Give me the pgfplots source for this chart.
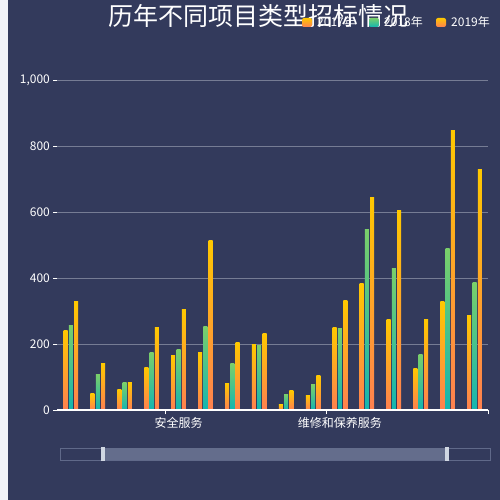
\documentclass[border=0pt]{standalone}
\usepackage{pgfplots}
\pgfplotsset{compat=1.18}
\usepackage{fontspec}
\setmainfont{Noto Sans CJK SC}
\definecolor{bg}{RGB}{51,58,92}
\definecolor{strip}{RGB}{242,243,248}
\definecolor{gridc}{RGB}{118,124,148}
\definecolor{yel}{RGB}{255,200,0}
\definecolor{org}{RGB}{255,128,80}
\definecolor{grn}{RGB}{122,207,106}
\definecolor{teal}{RGB}{19,181,177}
\definecolor{slb}{RGB}{96,105,137}
\definecolor{slf}{RGB}{100,109,140}
\definecolor{hdl}{RGB}{208,215,226}
\pgfplotsset{
  sA/.style={ybar, bar width=4pt, bar shift=-5.3pt, draw=none, top color=yel, bottom color=org},
  sB/.style={ybar, bar width=4pt, bar shift=0pt, draw=none, top color=grn, bottom color=teal},
  sC/.style={ybar, bar width=4pt, bar shift=5.3pt, draw=none, top color=yel, bottom color=org},
}
\begin{document}
\begin{tikzpicture}[x=1pt,y=1pt]
\useasboundingbox (0,0) rectangle (500,500);
\fill[strip] (0,0) rectangle (8,500);
\fill[bg] (8,0) rectangle (500,500);
\begin{axis}[
  at={(57.4pt,90pt)}, anchor=south west,
  scale only axis, width=430.6pt, height=330pt,
  xmin=-0.5, xmax=15.5, ymin=0, ymax=1000,
  axis line style={draw=none},
  ymajorgrids, grid style={gridc, line width=0.6pt},
  ytick={0,200,400,600,800,1000},
  yticklabels={0,200,400,600,800,{1,000}},
  xtick={4,10}, xticklabels={安全服务,维修和保养服务},
  x tick style={draw=none},
  extra x ticks={3.5,9.5,15.5}, extra x tick labels={},
  extra x tick style={x tick style={draw=white, line width=0.8pt}, major tick length=4.5pt},
  y tick style={white, line width=0.8pt},
  tick align=outside, tick pos=left, major tick length=4pt,
  tick label style={white, font=\fontsize{12}{12}\selectfont},
  /pgf/number format/assume math mode=true,
  clip=false,
]
% 2017
\addplot[sA] coordinates {(0,241)};
\addplot[sA] coordinates {(1,49)};
\addplot[sA] coordinates {(2,61)};
\addplot[sA] coordinates {(3,128)};
\addplot[sA] coordinates {(4,164)};
\addplot[sA] coordinates {(5,173)};
\addplot[sA] coordinates {(6,80)};
\addplot[sA] coordinates {(7,197)};
\addplot[sA] coordinates {(8,16)};
\addplot[sA] coordinates {(9,45)};
\addplot[sA] coordinates {(10,249)};
\addplot[sA] coordinates {(11,384)};
\addplot[sA] coordinates {(12,273)};
\addplot[sA] coordinates {(13,126)};
\addplot[sA] coordinates {(14,329)};
\addplot[sA] coordinates {(15,287)};
% 2018
\addplot[sB] coordinates {(0,256)};
\addplot[sB] coordinates {(1,108)};
\addplot[sB] coordinates {(2,82)};
\addplot[sB] coordinates {(3,173)};
\addplot[sB] coordinates {(4,182)};
\addplot[sB] coordinates {(5,252)};
\addplot[sB] coordinates {(6,140)};
\addplot[sB] coordinates {(7,195)};
\addplot[sB] coordinates {(8,48)};
\addplot[sB] coordinates {(9,76)};
\addplot[sB] coordinates {(10,246)};
\addplot[sB] coordinates {(11,548)};
\addplot[sB] coordinates {(12,429)};
\addplot[sB] coordinates {(13,168)};
\addplot[sB] coordinates {(14,488)};
\addplot[sB] coordinates {(15,385)};
% 2019
\addplot[sC] coordinates {(0,329)};
\addplot[sC] coordinates {(1,140)};
\addplot[sC] coordinates {(2,84)};
\addplot[sC] coordinates {(3,249)};
\addplot[sC] coordinates {(4,305)};
\addplot[sC] coordinates {(5,514)};
\addplot[sC] coordinates {(6,204)};
\addplot[sC] coordinates {(7,233)};
\addplot[sC] coordinates {(8,59)};
\addplot[sC] coordinates {(9,104)};
\addplot[sC] coordinates {(10,332)};
\addplot[sC] coordinates {(11,645)};
\addplot[sC] coordinates {(12,606)};
\addplot[sC] coordinates {(13,275)};
\addplot[sC] coordinates {(14,847)};
\addplot[sC] coordinates {(15,728)};
\draw[white, line width=1.2pt] (axis cs:-0.5,0) -- (axis cs:15.5,0);
\end{axis}
% title
\node[white, inner sep=0pt, font=\fontsize{25}{25}\selectfont] at (258,484) {历年不同项目类型招标情况};
% legend
\shade[top color=yel, bottom color=org, rounded corners=2pt] (302,473) rectangle (312,482);
\node[white, anchor=west, inner sep=0pt, font=\fontsize{12}{12}\selectfont] at (317,478) {2017年};
\shade[top color=grn, bottom color=teal, rounded corners=2pt] (369,473) rectangle (379,482);
\node[white, anchor=west, inner sep=0pt, font=\fontsize{12}{12}\selectfont] at (384,478) {2018年};
\shade[top color=yel, bottom color=org, rounded corners=2pt] (436,473) rectangle (446,482);
\node[white, anchor=west, inner sep=0pt, font=\fontsize{12}{12}\selectfont] at (451,478) {2019年};
% slider
\draw[slb, line width=0.9pt] (60,40) rectangle (490,52);
\fill[slf] (104,40.4) rectangle (446,51.6);
\fill[hdl] (100.5,39) rectangle (104.5,53);
\fill[hdl] (445,39) rectangle (449,53);
\end{tikzpicture}
\end{document}
